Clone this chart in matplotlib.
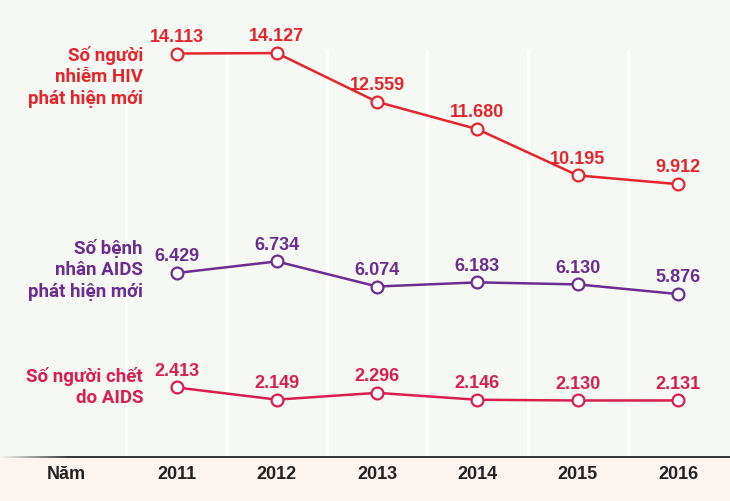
import numpy as np
import matplotlib.pyplot as plt
from matplotlib.collections import LineCollection

# số liệu HIV/AIDS 2011-2016
years = [2011, 2012, 2013, 2014, 2015, 2016]
hiv_new = [14113, 14127, 12559, 11680, 10195, 9912]
aids_new = [6429, 6734, 6074, 6183, 6130, 5876]
aids_deaths = [2413, 2149, 2296, 2146, 2130, 2131]

hiv_label = ["Số người", "nhiễm HIV", "phát hiện mới"]
aids_label = ["Số bệnh", "nhân AIDS", "phát hiện mới"]
death_label = ["Số người chết", "do AIDS"]

W, H = 730, 501
BG = "#f6f8f3"
BAND = "#fcf4ee"
NUM_FONT = ["Liberation Sans", "DejaVu Sans"]
LBL_FONT = ["Roboto", "DejaVu Sans"]

fig = plt.figure(figsize=(W / 100, H / 100), dpi=100)
fig.patch.set_facecolor(BG)

# trục x: 2011 -> 176.5px, mỗi năm ~100.3px
step = 100.3
x0 = 176.5
xlim = (years[0] - x0 / step, years[0] + (W - x0) / step)

# nền, vạch phân cách, dải năm
bg = fig.add_axes([0, 0, 1, 1])
bg.set_xlim(*xlim)
bg.set_ylim(H, 0)
bg.axis("off")
bg.axhspan(457, H, color=BAND, zorder=0)
bg.vlines(np.array(years) - 0.5, 50, 456, color="white", linewidth=2, zorder=1)

# đường kẻ đáy mờ dần bên trái
xs = np.linspace(0, 70, 30)
segs = [[((a / step) + xlim[0], 457), ((b / step) + xlim[0], 457)] for a, b in zip(xs[:-1], xs[1:])]
alphas = np.linspace(0, 1, len(segs))
lc = LineCollection(segs, colors=[(0.2, 0.2, 0.2, a) for a in alphas], linewidths=1.4, zorder=2)
bg.add_collection(lc)
bg.plot([xlim[0] + 70 / step, xlim[1]], [457, 457], color="#333333", linewidth=1.4, zorder=2)

for y in years:
    bg.text(y, 479, str(y), ha="center", va="baseline", fontsize=13, fontweight="bold",
            family=NUM_FONT, color="#222222")
fig.text(66 / W, 1 - 479 / H, "Năm", ha="center", va="baseline", fontsize=13,
         fontweight="bold", family=NUM_FONT, color="#222222")

series = [
    (hiv_new, hiv_label, "#e3262e", (-275, 15834), 61),
    (aids_new, aids_label, "#6b2d8f", (434, 13608), 254),
    (aids_deaths, death_label, "#d81f4f", (-56, 10840), 382),
]

for values, label, color, ylim, base in series:
    ax = fig.add_axes([0, 0, 1, 1])
    ax.set_xlim(*xlim)
    ax.set_ylim(*ylim)
    ax.axis("off")
    ax.patch.set_alpha(0)
    ax.plot(years, values, color=color, linewidth=1.8, marker="o", markersize=8.5,
            markerfacecolor="white", markeredgecolor=color, markeredgewidth=1.6, zorder=3)
    for x, v in zip(years, values):
        ax.annotate(f"{v:,}".replace(",", "."), (x, v), xytext=(0, 8.5), textcoords="offset points",
                    ha="center", va="baseline", fontsize=13, fontweight="bold",
                    family=NUM_FONT, color=color)
    for i, line in enumerate(label):
        fig.text(143 / W, 1 - (base + i * 21.3) / H, line, ha="right", va="baseline",
                 fontsize=13.5, fontweight="bold", family=LBL_FONT, color=color)

fig.savefig("out.png", dpi=100, facecolor=fig.get_facecolor())
